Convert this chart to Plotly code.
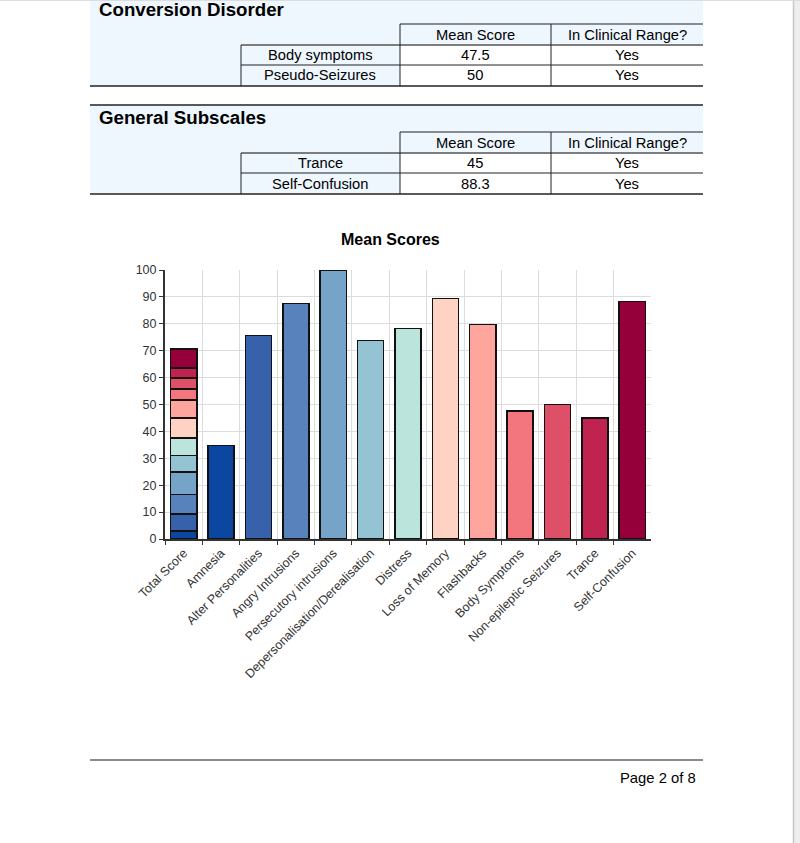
import plotly.graph_objects as go

# ---------------- data ----------------
categories = ["Total Score", "Amnesia", "Alter Personalities", "Angry Intrusions",
              "Persecutory intrusions", "Depersonalisation/Derealisation", "Distress",
              "Loss of Memory", "Flashbacks", "Body Symptoms", "Non-epileptic Seizures",
              "Trance", "Self-Confusion"]
subscales = categories[1:]
mean_scores = [34.7, 75.6, 87.6, 100, 73.8, 78.2, 89.5, 79.7, 47.5, 50, 45, 88.3]
total_parts = [2.9, 6.4, 7.3, 8.4, 6.0, 6.5, 7.5, 6.7, 4.0, 4.1, 3.7, 7.2]
bar_colors = ["#0b46a0", "#3762ab", "#5782bc", "#75a4c8", "#94c4d3", "#bbe5dc",
              "#fed3c3", "#fea59e", "#f3767f", "#de4f68", "#c02350", "#95003a"]

table_headers = ["Mean Score", "In Clinical Range?"]
conv_rows = ["Body symptoms", "Pseudo-Seizures"]
conv_scores = ["47.5", "50"]
conv_clinical = ["Yes", "Yes"]
gen_rows = ["Trance", "Self-Confusion"]
gen_scores = ["45", "88.3"]
gen_clinical = ["Yes", "Yes"]

W, H = 800, 843
FONT = "Liberation Sans, Arial, sans-serif"


def px(x):
    return x / W


def py(y):
    return 1 - y / H


shapes = []
annotations = []


def rect(x0, y0, x1, y1, fill, line=None, lw=0, layer="below"):
    shapes.append(dict(type="rect", xref="paper", yref="paper",
                       x0=px(x0), x1=px(x1), y0=py(y1), y1=py(y0),
                       fillcolor=fill, line=dict(width=lw, color=line or fill), layer=layer))


def hline(y, x0, x1, color="#222", w=1):
    shapes.append(dict(type="line", xref="paper", yref="paper",
                       x0=px(x0), x1=px(x1), y0=py(y), y1=py(y),
                       line=dict(color=color, width=w), layer="above"))


def vline(x, y0, y1, color="#222", w=1):
    shapes.append(dict(type="line", xref="paper", yref="paper",
                       x0=px(x), x1=px(x), y0=py(y0), y1=py(y1),
                       line=dict(color=color, width=w), layer="above"))


def text(x, y, s, size=14.7, bold=False, xanchor="center", color="#000"):
    annotations.append(dict(xref="paper", yref="paper", x=px(x), y=py(y),
                            text=f"<b>{s}</b>" if bold else s, showarrow=False,
                            xanchor=xanchor, yanchor="middle",
                            font=dict(family=FONT, size=size, color=color)))


BG = "#eef6fe"


def section(top, title, rows, scores, clinical, head_top):
    rect(90, max(top, 0), 703, head_top + 62, BG)
    text(97, top + 12.5, title, size=18.7, bold=True, xanchor="left")
    r0 = head_top
    r1 = head_top + 21
    r2 = head_top + 41
    r3 = head_top + 62
    rect(400, r1, 703, r3, "#ffffff")
    hline(r0, 400, 703)
    hline(r1, 241, 703, color="#555", w=1.5)
    hline(r2, 241, 703)
    hline(r3, 90, 703, w=1.5)
    vline(241, r1, r3)
    vline(400, r0, r3)
    vline(551, r0, r3)
    text(475, (r0 + r1) / 2, table_headers[0])
    text(627, (r0 + r1) / 2, table_headers[1])
    for i, (lab, sc, cl) in enumerate(zip(rows, scores, clinical)):
        yc = (r1 + r2) / 2 if i == 0 else (r2 + r3) / 2
        text(320, yc, lab)
        text(475, yc, sc)
        text(627, yc, cl)


section(-3, "Conversion Disorder", conv_rows, conv_scores, conv_clinical, 24)
hline(105, 90, 703, w=1.5)
section(105, "General Subscales", gen_rows, gen_scores, gen_clinical, 132)

# page edge at the right and top
rect(794, 0, 800, H, "#eeeeee")
vline(793.5, 0, H, color="#c8c8c8", w=1.5)
hline(0.5, 0, 800, color="#dddddd", w=1)

# chart title
text(390, 240, "Mean Scores", size=16, bold=True)

# footer
hline(760, 90, 703, color="#666", w=1.5)
text(698, 778, "Page 2 of 8", size=14.8, xanchor="right")

# ---------------- chart ----------------
fig = go.Figure()
for name, val, col in zip(subscales, total_parts, bar_colors):
    fig.add_trace(go.Bar(x=[categories[0]], y=[val], name=name,
                         marker=dict(color=col, line=dict(color="#111", width=1.5)),
                         showlegend=False))
fig.add_trace(go.Bar(x=subscales, y=mean_scores,
                     marker=dict(color=bar_colors, line=dict(color="#111", width=1.5)),
                     showlegend=False))

fig.update_layout(
    width=W, height=H, autosize=False,
    margin=dict(l=0, r=0, t=0, b=0, pad=0, autoexpand=False),
    paper_bgcolor="#ffffff", plot_bgcolor="#ffffff",
    barmode="stack", bargap=0.3,
    font=dict(family=FONT, color="#333"),
    shapes=shapes, annotations=annotations,
    xaxis=dict(domain=[px(165), px(651)], type="category",
               categoryorder="array", categoryarray=categories,
               tickson="boundaries", showgrid=True, gridcolor="#dcdcdc", gridwidth=1,
               showline=True, linecolor="#333", linewidth=2,
               ticks="outside", ticklen=4, tickcolor="#333", tickwidth=1,
               tickangle=-45, tickfont=dict(family=FONT, size=12.5, color="#333"),
               automargin=False, fixedrange=True),
    yaxis=dict(domain=[py(539), py(270)], range=[0, 100], dtick=10,
               showgrid=True, gridcolor="#dcdcdc", gridwidth=1,
               showline=True, linecolor="#333", linewidth=2,
               ticks="outside", ticklen=4, tickcolor="#333",
               tickfont=dict(family=FONT, size=12.5, color="#333"),
               automargin=False, zeroline=False, fixedrange=True),
)

fig.write_html("out.html", post_script="document.body.style.margin='0';",
               config={"displayModeBar": False})
